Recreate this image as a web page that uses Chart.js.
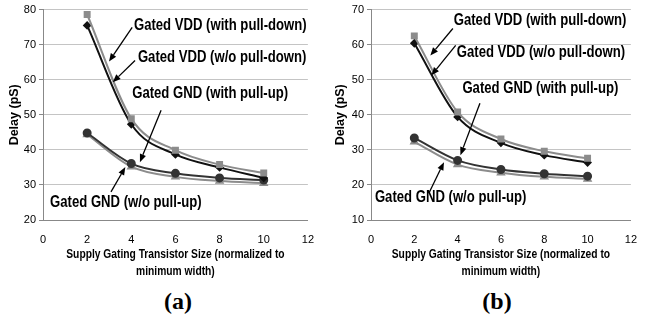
<!DOCTYPE html>
<html>
<head>
<meta charset="utf-8">
<script src="https://cdn.jsdelivr.net/npm/chart.js@4.4.1/dist/chart.umd.min.js"></script>
<style>
  html, body { margin: 0; padding: 0; background: #fff; }
  body { width: 646px; height: 328px; position: relative; overflow: hidden; }
  .panel { position: absolute; top: 0; width: 323px; height: 280px; }
  .cap { position: absolute; top: 288px; width: 60px; text-align: center;
         font: bold 24px "Liberation Serif", "Times New Roman", serif; color: #000; }
</style>
</head>
<body>
<div class="panel" style="left:0"><canvas id="chartA" width="323" height="280"></canvas></div>
<div class="panel" style="left:323px"><canvas id="chartB" width="323" height="280"></canvas></div>
<div class="cap" style="left:148px">(a)</div>
<div class="cap" style="left:467px">(b)</div>
<script>
// transistor sizes (x values)
const sizes = [2, 4, 6, 8, 10];

// panel (a) delays in pS
const vddPullDownA = [78.6, 48.9, 39.9, 35.8, 33.4];
const vddNoPullDownA = [75.5, 47.3, 38.7, 35.0, 32.0];
const gndPullUpA = [44.8, 36.1, 33.3, 32.0, 31.4];
const gndNoPullUpA = [44.4, 35.2, 32.3, 31.1, 30.5];

// panel (b) delays in pS
const vddPullDownB = [62.5, 40.8, 33.1, 29.6, 27.6];
const vddNoPullDownB = [60.4, 39.4, 32.0, 28.5, 26.4];
const gndPullUpB = [33.4, 27.0, 24.4, 23.2, 22.5];
const gndNoPullUpB = [32.3, 25.8, 23.5, 22.3, 21.7];

const seriesNames = ['Gated VDD (with pull-down)', 'Gated VDD (w/o pull-down)',
                     'Gated GND (with pull-up)', 'Gated GND (w/o pull-up)'];
const xTitle = ['Supply Gating Transistor Size (normalized to', 'minimum width)'];
const yTitle = 'Delay (pS)';

const sans = '"Liberation Sans", Arial, sans-serif';
Chart.defaults.font.family = sans;
Chart.defaults.color = '#000';

// label text positions and arrows in data units (x, y)
const notesA = {
    labels: [[4.12, 75.5], [4.3, 66.4], [4.04, 56.1], [0.32, 24.9]],
    arrows: [[4.04, 74.9, 2.99, 65.2], [4.17, 65.5, 3.16, 59.3],
             [5.35, 51.3, 4.39, 36.5], [3.08, 28.0, 3.73, 35.1]]
};
const notesB = {
    labels: [[3.82, 66.9], [3.96, 57.8], [4.22, 47.6], [0.18, 16.3]],
    arrows: [[3.78, 64.6, 2.74, 56.9], [3.91, 59.8, 2.79, 51.25],
             [5.03, 43.3, 4.13, 28.5], [2.70, 18.0, 3.37, 26.5]]
};

// narrow text: Liberation Sans squeezed sideways
function narrowText(ctx, text, x, y, sx, rot) {
    ctx.save();
    ctx.translate(x, y);
    if (rot) ctx.rotate(rot);
    ctx.scale(sx, 1);
    ctx.fillText(text, 0, 0);
    ctx.restore();
}

const notesPlugin = {
    id: 'notes',
    afterDraw(chart, args, opts) {
        const ctx = chart.ctx;
        const xs = chart.scales.x, ys = chart.scales.y;
        const area = chart.chartArea;
        ctx.save();
        ctx.fillStyle = '#000';
        ctx.strokeStyle = '#000';
        ctx.textBaseline = 'middle';

        // axis titles
        ctx.textAlign = 'center';
        ctx.font = 'bold 12px ' + sans;
        const cx = (area.left + area.right) / 2;
        narrowText(ctx, xTitle[0], cx, 255, 0.855);
        narrowText(ctx, xTitle[1], cx, 272, 0.855);
        ctx.font = 'bold 12.5px ' + sans;
        narrowText(ctx, yTitle, opts.yTitleX, (area.top + area.bottom) / 2, 1, -Math.PI / 2);

        // series labels
        ctx.textAlign = 'left';
        ctx.font = 'bold 16px ' + sans;
        opts.labels.forEach((p, i) => {
            narrowText(ctx, seriesNames[i], xs.getPixelForValue(p[0]), ys.getPixelForValue(p[1]), 0.82);
        });

        // arrows
        ctx.lineWidth = 1.3;
        opts.arrows.forEach(a => {
            const x1 = xs.getPixelForValue(a[0]), y1 = ys.getPixelForValue(a[1]);
            const x2 = xs.getPixelForValue(a[2]), y2 = ys.getPixelForValue(a[3]);
            const ang = Math.atan2(y2 - y1, x2 - x1);
            const hl = 8, hw = 3.2;
            ctx.beginPath();
            ctx.moveTo(x1, y1);
            ctx.lineTo(x2 - hl * Math.cos(ang), y2 - hl * Math.sin(ang));
            ctx.stroke();
            ctx.beginPath();
            ctx.moveTo(x2, y2);
            ctx.lineTo(x2 - hl * Math.cos(ang) + hw * Math.sin(ang), y2 - hl * Math.sin(ang) - hw * Math.cos(ang));
            ctx.lineTo(x2 - hl * Math.cos(ang) - hw * Math.sin(ang), y2 - hl * Math.sin(ang) + hw * Math.cos(ang));
            ctx.closePath();
            ctx.fill();
        });
        ctx.restore();
    }
};

function makeSeries(data, color, style, radius) {
    return {
        data: sizes.map((s, i) => ({ x: s, y: data[i] })),
        borderColor: color,
        backgroundColor: color,
        pointBackgroundColor: color,
        pointBorderColor: color,
        pointStyle: style,
        pointRadius: radius,
        borderWidth: 2,
        tension: 0.4,
        cubicInterpolationMode: 'monotone',
        fill: false
    };
}

function buildChart(id, vals, yMin, yMax, yWidth, padRight, notes) {
    return new Chart(document.getElementById(id), {
        type: 'line',
        data: {
            datasets: [
                makeSeries(vals[0], '#8c8c8c', 'rect', 3.5),
                makeSeries(vals[1], '#111111', 'rectRot', 3),
                makeSeries(vals[2], '#333333', 'circle', 3.5),
                makeSeries(vals[3], '#8c8c8c', 'triangle', 3.5)
            ]
        },
        options: {
            responsive: false,
            animation: false,
            layout: { padding: { top: 9, right: padRight, left: 0, bottom: 0 } },
            plugins: {
                legend: { display: false },
                tooltip: { enabled: false },
                notes: notes
            },
            scales: {
                x: {
                    type: 'linear',
                    min: 0, max: 12,
                    ticks: { stepSize: 2, font: { size: 11 }, padding: 9, maxRotation: 0 },
                    grid: { display: false, drawTicks: true, tickLength: 4, tickColor: '#888' },
                    border: { display: true, color: '#888', width: 1 },
                    afterFit(scale) { scale.height = 60; }
                },
                y: {
                    min: yMin, max: yMax,
                    ticks: { stepSize: 10, font: { size: 11 }, padding: 3 },
                    grid: { color: '#c4c4c4', lineWidth: 1, borderDash: [2, 2],
                            drawTicks: true, tickLength: 4, tickColor: '#888', tickBorderDash: [] },
                    border: { display: true, color: '#888', width: 1, dash: [] },
                    afterFit(scale) { scale.width = yWidth; }
                }
            }
        },
        plugins: [notesPlugin]
    });
}

buildChart('chartA', [vddPullDownA, vddNoPullDownA, gndPullUpA, gndNoPullUpA], 20, 80, 43, 6,
           Object.assign({ yTitleX: 15 }, notesA));
buildChart('chartB', [vddPullDownB, vddNoPullDownB, gndPullUpB, gndNoPullUpB], 10, 70, 48, 8,
           Object.assign({ yTitleX: 18 }, notesB));
</script>
</body>
</html>
